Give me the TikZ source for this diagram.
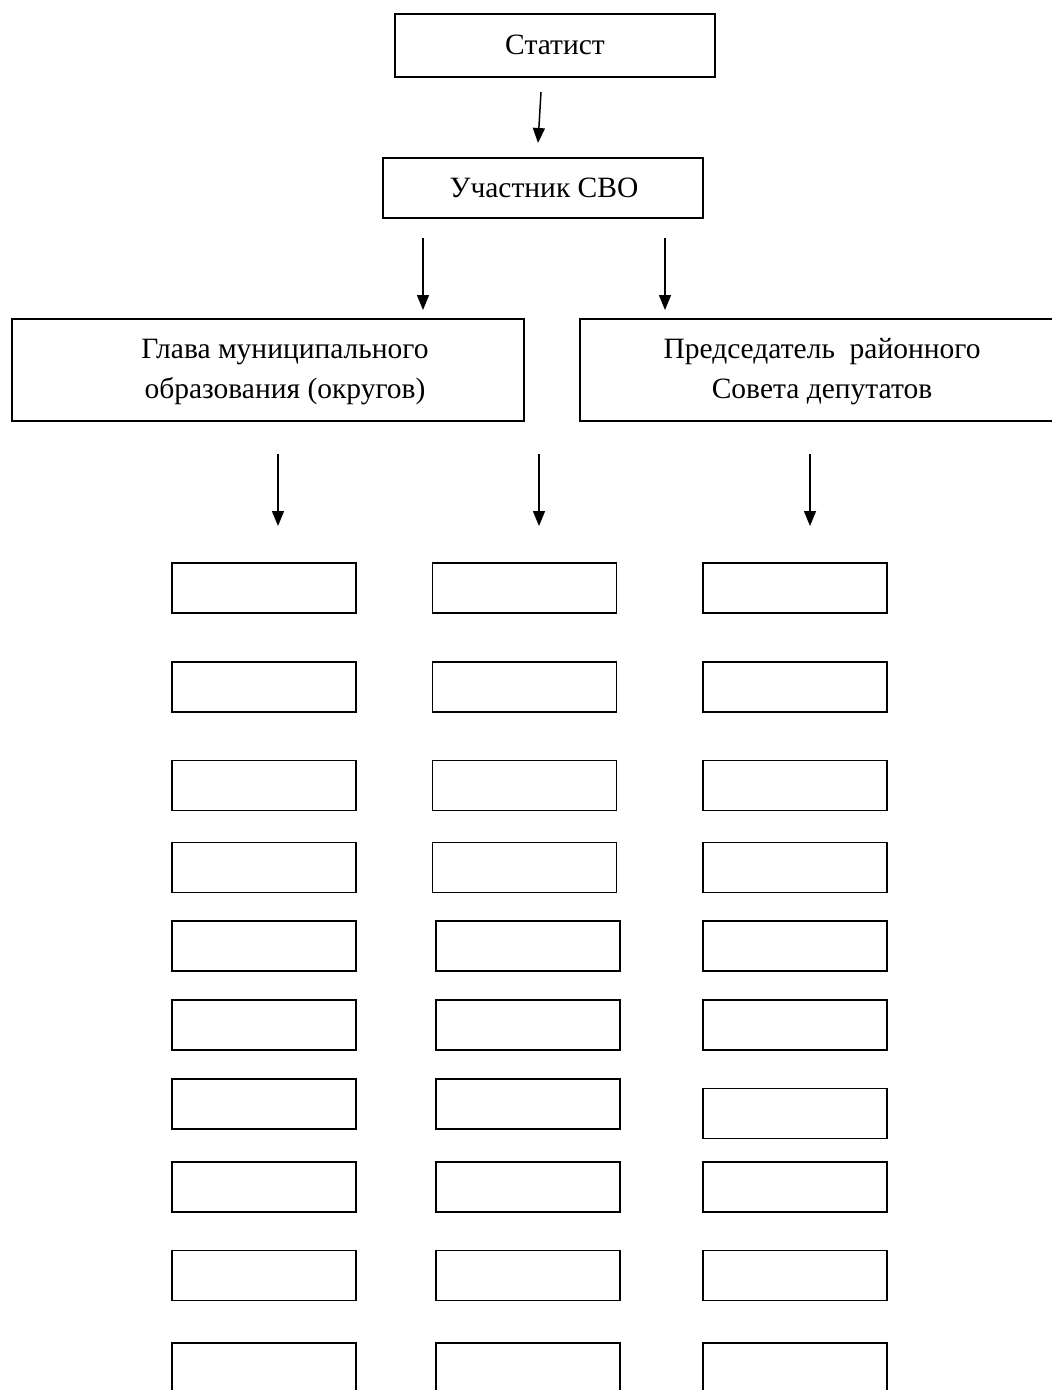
\documentclass[tikz,border=0pt]{standalone}
\usepackage{fontspec}
\setmainfont{Liberation Serif}
\usetikzlibrary{arrows.meta}
\begin{document}
\begin{tikzpicture}[x=1pt,y=-1pt,
  box/.style={draw, line width=1.7pt, inner sep=0pt},
  sbox/.style={box, minimum width=184pt, minimum height=50pt},
  lbl/.style={font=\fontsize{29.5}{40}\selectfont, align=center, inner sep=0pt},
  arr/.style={line width=1.5pt, -{Triangle[width=12pt,length=15pt]}}]
\useasboundingbox (0,0) rectangle (1052,1390);
% top boxes
\node[box, minimum width=320pt, minimum height=63pt] (stat) at (555,45.5) {};
\node[lbl] (statt) at (555,45) {Статист};
\node[box, minimum width=320pt, minimum height=60pt] (uch) at (543,188) {};
\node[lbl] (ucht) at (544,188) {Участник СВО};
\node[box, minimum width=512pt, minimum height=102pt] (glava) at (268,370) {};
\node[lbl] (glavat) at (285,372) {Глава муниципального\\образования (округов)};
\node[box, minimum width=480pt, minimum height=102pt] (pred) at (820,370) {};
\node[lbl] (predt) at (822,372) {Председатель\ \ районного\\Совета депутатов};
% arrows
\coordinate (a1s) at (541,92); \coordinate (a1e) at (538,143);
\coordinate (a2s) at (423,238); \coordinate (a2e) at (423,310);
\coordinate (a3s) at (665,238); \coordinate (a3e) at (665,310);
\coordinate (a4s) at (278,454); \coordinate (a4e) at (278,526);
\coordinate (a5s) at (539,454); \coordinate (a5e) at (539,526);
\coordinate (a6s) at (810,454); \coordinate (a6e) at (810,526);
\draw[arr] (a1s) -- (a1e);
\draw[arr] (a2s) -- (a2e);
\draw[arr] (a3s) -- (a3e);
\draw[arr] (a4s) -- (a4e);
\draw[arr] (a5s) -- (a5e);
\draw[arr] (a6s) -- (a6e);
% small boxes
\foreach \i/\y in {1/588,2/687,3/785.5,4/867.5}{
  \node[sbox] (c1r\i) at (264,\y) {};
  \node[sbox] (c2r\i) at (524.5,\y) {};
  \node[sbox] (c3r\i) at (795,\y) {};
}
\foreach \i/\y/\yy in {5/946/946,6/1025/1025,7/1104/1113.5,8/1187/1187,9/1275.5/1275.5,10/1368/1368}{
  \node[sbox] (c1r\i) at (264,\y) {};
  \node[sbox] (c2r\i) at (528,\y) {};
  \node[sbox] (c3r\i) at (795,\yy) {};
}
\end{tikzpicture}
\end{document}
